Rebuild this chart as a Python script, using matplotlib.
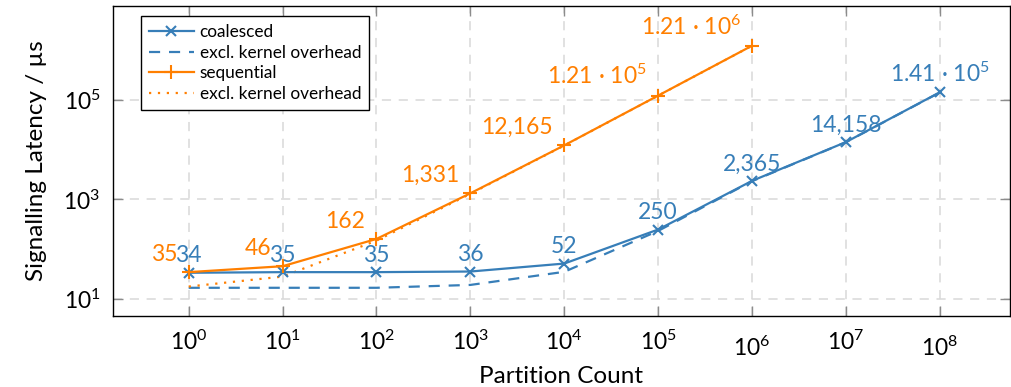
import numpy as np
import matplotlib
matplotlib.use("Agg")
import matplotlib.pyplot as plt
from matplotlib.transforms import ScaledTranslation
from matplotlib.ticker import FixedLocator, FuncFormatter, NullLocator

plt.rcParams['font.family'] = ['Lato', 'DejaVu Sans']
plt.rcParams['mathtext.fontset'] = 'custom'
plt.rcParams['mathtext.rm'] = 'Lato'
plt.rcParams['mathtext.it'] = 'Lato:italic'
plt.rcParams['mathtext.bf'] = 'Lato:bold'

# ---- data ----
partitions = [1e0, 1e1, 1e2, 1e3, 1e4, 1e5, 1e6, 1e7, 1e8]
coalesced = [34, 35, 35, 36, 52, 250, 2365, 14158, 1.41e5]
coalesced_excl = [17, 17, 17, 19.4, 35.5, 235, 2330, 14100, 1.40e5]
seq_partitions = [1e0, 1e1, 1e2, 1e3, 1e4, 1e5, 1e6]
sequential = [35, 46, 162, 1331, 12165, 1.21e5, 1.21e6]
sequential_excl = [18, 28.5, 150, 1300, 12100, 1.205e5, 1.208e6]

BLUE = '#377eb8'
ORANGE = '#ff7f00'

W, H = 1012, 387
fig = plt.figure(figsize=(W / 100, H / 100), dpi=100)
ax = fig.add_axes([113 / W, 1 - 316 / H, (1010 - 113) / W, (316 - 6) / H])
ax.set_xscale('log')
ax.set_yscale('log')
ax.set_xlim(10 ** -0.806, 10 ** 8.747)
ax.set_ylim(10 ** 0.665, 10 ** 6.878)

ax.plot(partitions, coalesced, color=BLUE, lw=1.6, marker='x', ms=7, mew=1.5,
        label='coalesced', zorder=4)
ax.plot(partitions, coalesced_excl, color=BLUE, lw=1.6, ls=(0, (5, 4)),
        label='excl. kernel overhead', zorder=3)
ax.plot(seq_partitions, sequential, color=ORANGE, lw=1.6, marker='+', ms=10, mew=1.5,
        label='sequential', zorder=4)
ax.plot(seq_partitions, sequential_excl, color=ORANGE, lw=1.6, ls=(0, (1, 3)),
        label='excl. kernel overhead', zorder=3)


def fmt_val(v):
    if v < 1e5:
        return f"{int(round(v)):,}"
    e = int(np.floor(np.log10(v)))
    m = v / 10 ** e
    return f"{m:.2f} · 10$^{{{e}}}$"


for x, v in zip(partitions, coalesced):
    ax.annotate(fmt_val(v), (x, v), xytext=(0, 7.5), textcoords='offset points',
                ha='center', va='baseline', color=BLUE, fontsize=16.5, zorder=5)
for x, v in zip(seq_partitions, sequential):
    ax.annotate(fmt_val(v), (x, v), xytext=(-8, 8), textcoords='offset points',
                ha='right', va='baseline', color=ORANGE, fontsize=16.5, zorder=5)

# axes styling
ax.xaxis.set_major_locator(FixedLocator(partitions))
ax.xaxis.set_minor_locator(NullLocator())
ax.yaxis.set_major_locator(FixedLocator([1e1, 1e3, 1e5]))
ax.yaxis.set_minor_locator(NullLocator())


def pow_fmt(v, pos):
    e = int(round(np.log10(v)))
    return f"$10^{{{e}}}$"


ax.xaxis.set_major_formatter(FuncFormatter(pow_fmt))
ax.yaxis.set_major_formatter(FuncFormatter(pow_fmt))

ax.grid(True, which='major', color='#d9d9d9', ls=(0, (6, 5)), lw=1.1)
ax.set_axisbelow(True)
ax.tick_params(axis='both', which='major', direction='in', length=7, width=1,
               color='#8c8c8c', labelsize=16.5, top=True, right=True)
ax.tick_params(axis='x', pad=10)
ax.tick_params(axis='y', pad=9)
for s in ax.spines.values():
    s.set_linewidth(1.0)
    s.set_color('black')

fig.canvas.draw()
for lab in ax.get_xticklabels():
    t = lab.get_text()
    if '{6}' in t or '{8}' in t:
        lab.set_transform(lab.get_transform() + ScaledTranslation(0, -4 / 72, fig.dpi_scale_trans))

ax.set_xlabel('Partition Count', fontsize=17.5, labelpad=4.5)
ax.set_ylabel('Signalling Latency / µs', fontsize=17.5, labelpad=12)

leg = ax.legend(loc='upper left', bbox_to_anchor=((141 - 113) / 897, (316 - 16) / 310),
                borderaxespad=0, fontsize=12.4, frameon=True, fancybox=False,
                edgecolor='black', framealpha=1, handlelength=2.6, handletextpad=0.35,
                labelspacing=0.28, borderpad=0.45)
leg.get_frame().set_linewidth(1.0)

fig.savefig('out.png', dpi=100)
